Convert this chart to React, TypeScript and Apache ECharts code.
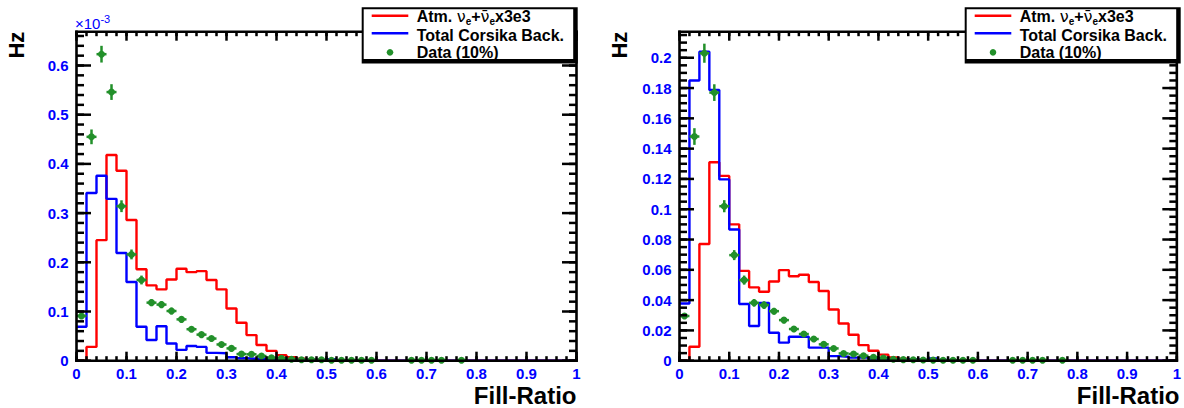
import React, { useEffect, useRef } from "react";
import * as echarts from "echarts";

// ---------- data (bin width 0.02, 50 bins from 0 to 1) ----------
const BIN_WIDTH = 0.02;

// Left panel (units of 1e-3 Hz)
const atmLeft = [0, 0.028, 0.245, 0.418, 0.386, 0.286, 0.186, 0.153, 0.145, 0.165, 0.187, 0.18, 0.182, 0.164, 0.145, 0.106, 0.077, 0.052, 0.032, 0.02, 0.011, 0.007, 0.004, 0.002, 0.001, 0.003, 0.001, 0, 0, 0, 0, 0, 0, 0, 0, 0, 0, 0, 0, 0, 0, 0, 0, 0, 0, 0, 0, 0, 0, 0];
const corsikaLeft = [0.069, 0.341, 0.376, 0.329, 0.219, 0.16, 0.069, 0.042, 0.07, 0.035, 0.022, 0.03, 0.028, 0.016, 0.015, 0.007, 0.005, 0.004, 0.004, 0.003, 0.003, 0.002, 0.002, 0.002, 0.001, 0.003, 0.001, 0.001, 0, 0, 0, 0, 0, 0, 0, 0, 0, 0, 0, 0, 0, 0, 0, 0, 0, 0, 0, 0, 0, 0];
const dataLeft = [0.091, 0.455, 0.623, 0.546, 0.314, 0.216, 0.164, 0.118, 0.114, 0.101, 0.084, 0.064, 0.053, 0.045, 0.033, 0.025, 0.0135, 0.013, 0.0095, 0.006, 0.005, 0.003, 0.002, 0.002, 0.002, 0.001, 0.001, 0.001, 0.001, 0.001, null, null, null, 0.001, 0.001, 0.001, 0.001, null, 0.001, null, null, null, null, null, null, null, null, null, null, null];
const errLeft = [0.006, 0.015, 0.017, 0.016, 0.012, 0.01, 0.009, 0.007, 0.007, 0.007, 0.006, 0.005, 0.005, 0.004, 0.004, 0.003, 0.003, 0.003, 0.002, 0.002, 0.002, 0.002, 0.001, 0.001, 0.001, 0.001, 0.001, 0.001, 0.001, 0.001, 0, 0, 0, 0.001, 0.001, 0.001, 0.001, 0, 0.001, 0, 0, 0, 0, 0, 0, 0, 0, 0, 0, 0];

// Right panel (Hz)
const atmRight = [0, 0.0092, 0.077, 0.131, 0.122, 0.09, 0.0593, 0.0484, 0.0455, 0.0523, 0.0598, 0.0558, 0.0567, 0.052, 0.046, 0.0338, 0.0246, 0.0171, 0.0103, 0.0066, 0.004, 0.0022, 0.0013, 0.0007, 0.0004, 0.0009, 0.0003, 0, 0, 0, 0, 0, 0, 0, 0, 0, 0, 0, 0, 0, 0, 0, 0, 0, 0, 0, 0, 0, 0, 0];
const corsikaRight = [0.0378, 0.185, 0.204, 0.1787, 0.1197, 0.0866, 0.0374, 0.0229, 0.0382, 0.0185, 0.0119, 0.0158, 0.0158, 0.0086, 0.0086, 0.003, 0.0026, 0.002, 0.002, 0.0015, 0.001, 0.001, 0.001, 0.0008, 0.0005, 0.0015, 0.0005, 0.0003, 0, 0, 0, 0, 0, 0, 0, 0, 0, 0, 0, 0, 0, 0, 0, 0, 0, 0, 0, 0, 0, 0];
const dataRight = [0.0295, 0.148, 0.203, 0.177, 0.102, 0.0697, 0.0532, 0.0382, 0.0367, 0.0327, 0.0268, 0.0209, 0.0176, 0.0143, 0.0108, 0.0081, 0.0048, 0.0044, 0.0033, 0.0022, 0.0018, 0.0009, 0.0007, 0.0006, 0.0005, 0.0004, 0.0003, 0.0003, 0.0003, 0.0003, null, null, null, 0.0003, 0.0003, 0.0003, 0.0003, null, 0.0003, null, null, null, null, null, null, null, null, null, null, null];
const errRight = [0.002, 0.0055, 0.0063, 0.0055, 0.004, 0.0033, 0.003, 0.0025, 0.0025, 0.0022, 0.002, 0.0018, 0.0016, 0.0014, 0.0012, 0.001, 0.0008, 0.0008, 0.0007, 0.0006, 0.0005, 0.0004, 0.0003, 0.0003, 0.0003, 0.0002, 0.0002, 0.0002, 0.0002, 0.0002, 0, 0, 0, 0.0002, 0.0002, 0.0002, 0.0002, 0, 0.0002, 0, 0, 0, 0, 0, 0, 0, 0, 0, 0, 0];

const legendLabels = ["Atm.", "Total Corsika Back.", "Data (10%)"];
const xAxisTitle = "Fill-Ratio";
const yAxisTitle = "Hz";

// ---------- styles ----------
const RED = "#ff0000";
const BLUE = "#0000ff";
const GREEN = "#22902a";
const INK = "#000000";
const TICK_W = 2.5;
const FRAME_W = 2.6;
const FONT = "Liberation Sans, Arial, Helvetica, sans-serif";

const panels = [
  { left: 76.5, ymax: 0.6687, yMajor: 0.1, yMinor: 0.02, atm: atmLeft, cor: corsikaLeft, data: dataLeft, err: errLeft, exponent: true },
  { left: 679.5, ymax: 0.2172, yMajor: 0.02, yMinor: 0.005, atm: atmRight, cor: corsikaRight, data: dataRight, err: errRight, exponent: false },
];
const GRID_TOP = 31.7;
const GRID_H = 329;
const GRID_W = 500;
const X_MAJOR = 0.1;
const X_MINOR = 0.02;

function fmtTick(v: number, step: number): string {
  const r = Math.round(v / step);
  if (Math.abs(v - r * step) > step * 1e-6) return "";
  return String(parseFloat((r * step).toFixed(4)));
}

function tickValues(step: number, max: number): number[] {
  const out: number[] = [];
  for (let i = 0; i * step <= max + 1e-9; i++) out.push(parseFloat((i * step).toFixed(6)));
  return out;
}

function histData(vals: number[]) {
  const pts: number[][] = vals.map((v, i) => [i * BIN_WIDTH, v]);
  pts.push([vals.length * BIN_WIDTH, vals[vals.length - 1]]);
  return pts;
}

function baseGraphic(): any[] {
  const graphic: any[] = [];
  panels.forEach((p, pi) => {
    const right = p.left + GRID_W;
    graphic.push({
      id: "xt" + pi, type: "text", x: right, y: 395, z: 100,
      style: { text: xAxisTitle, fill: INK, fontSize: 24, fontWeight: "bold", fontFamily: FONT, align: "right", verticalAlign: "middle" },
    });
    graphic.push({
      id: "yt" + pi, type: "text", x: p.left - 60, y: GRID_TOP, rotation: Math.PI / 2, z: 100,
      style: { text: yAxisTitle, fill: INK, fontSize: 22, fontWeight: "bold", fontFamily: FONT, align: "right", verticalAlign: "middle" },
    });
    if (p.exponent) {
      graphic.push({
        id: "ex" + pi, type: "text", x: p.left - 1.5, y: 23, z: 100,
        style: {
          text: "{m|\u00d710}{e|-3}", align: "left", verticalAlign: "middle",
          rich: {
            m: { fontSize: 15, fontFamily: FONT, fill: BLUE, color: BLUE, lineHeight: 20 },
            e: { fontSize: 11, fontFamily: FONT, fill: BLUE, color: BLUE, lineHeight: 10, verticalAlign: "top" },
          },
        },
      });
    }
    const lx = p.left + 286.2;
    const ly = 8.3;
    const lw = 211.5;
    const lh = 51.7;
    graphic.push({ id: "lsh" + pi, type: "rect", z: 100, shape: { x: lx - 1, y: ly - 1, width: lw + 4.5, height: lh + 4.5 }, style: { fill: INK } });
    graphic.push({ id: "lbx" + pi, type: "rect", z: 101, shape: { x: lx + 1, y: ly + 1, width: lw - 2, height: lh - 2 }, style: { fill: "#fff" } });
    graphic.push({ id: "lr" + pi, type: "line", z: 102, shape: { x1: lx + 9, y1: 15.7, x2: lx + 45.6, y2: 15.7 }, style: { stroke: RED, lineWidth: 2.4 } });
    graphic.push({ id: "lb" + pi, type: "line", z: 102, shape: { x1: lx + 9, y1: 33.3, x2: lx + 45.6, y2: 33.3 }, style: { stroke: BLUE, lineWidth: 2.4 } });
    graphic.push({ id: "lg" + pi, type: "circle", z: 102, shape: { cx: lx + 27.3, cy: 52.3, r: 3.3 }, style: { fill: GREEN } });
    const b = { fontSize: 16, fontWeight: "bold", fontFamily: FONT, fill: INK, color: INK, lineHeight: 20 };
    graphic.push({
      id: "l1" + pi, type: "text", x: lx + 54, y: 16.2, z: 102,
      style: {
        text: "{a|" + legendLabels[0] + " }{g|\u03bd}{s|e}{a|+}{g|\u03bd\u0304}{s|e}{a|x3e3}",
        align: "left", verticalAlign: "middle",
        rich: {
          a: b,
          g: { fontSize: 16, fontWeight: "normal", fontFamily: "DejaVu Sans", fill: INK, color: INK, lineHeight: 20 },
          s: { fontSize: 10, fontWeight: "bold", fontFamily: FONT, fill: INK, color: INK, lineHeight: 10, verticalAlign: "bottom" },
        },
      },
    });
    graphic.push({
      id: "l2" + pi, type: "text", x: lx + 54, y: 35.3, z: 102,
      style: { text: legendLabels[1], align: "left", verticalAlign: "middle", fontSize: 16, fontWeight: "bold", fontFamily: FONT, fill: INK },
    });
    graphic.push({
      id: "l3" + pi, type: "text", x: lx + 54, y: 52.5, z: 102,
      style: { text: legendLabels[2], align: "left", verticalAlign: "middle", fontSize: 16, fontWeight: "bold", fontFamily: FONT, fill: INK },
    });
  });
  return graphic;
}

function buildOption() {
  const grid: any[] = [];
  const xAxis: any[] = [];
  const yAxis: any[] = [];
  const series: any[] = [];
  const labelStyle = { color: BLUE, fontWeight: "bold", fontSize: 15, fontFamily: FONT };

  panels.forEach((p, pi) => {
    grid.push({ show: false, left: p.left, top: GRID_TOP, width: GRID_W, height: GRID_H });
    xAxis.push({
      type: "value", gridIndex: pi, min: 0, max: 1, interval: X_MAJOR,
      axisLine: { show: false }, axisTick: { show: false }, minorTick: { show: false },
      splitLine: { show: false }, minorSplitLine: { show: false },
      axisLabel: { show: true, ...labelStyle, margin: 5, showMinLabel: true, showMaxLabel: true, formatter: (v: number) => fmtTick(v, X_MAJOR) },
    });
    yAxis.push({
      type: "value", gridIndex: pi, min: 0, max: p.ymax, interval: p.yMajor,
      axisLine: { show: false }, axisTick: { show: false }, minorTick: { show: false },
      splitLine: { show: false }, minorSplitLine: { show: false },
      axisLabel: { show: true, ...labelStyle, margin: 8, showMinLabel: true, showMaxLabel: true, formatter: (v: number) => fmtTick(v, p.yMajor) },
    });

    series.push({
      type: "line", xAxisIndex: pi, yAxisIndex: pi, step: "end", showSymbol: false, symbol: "none",
      data: histData(p.atm), lineStyle: { color: RED, width: 2.4 }, itemStyle: { color: RED }, z: 11,
    });
    series.push({
      type: "line", xAxisIndex: pi, yAxisIndex: pi, step: "end", showSymbol: false, symbol: "none",
      data: histData(p.cor), lineStyle: { color: BLUE, width: 2.4 }, itemStyle: { color: BLUE }, z: 12,
    });
    const pts: number[][] = [];
    p.data.forEach((v, i) => {
      if (v !== null) pts.push([(i + 0.5) * BIN_WIDTH, v as number, p.err[i]]);
    });
    series.push({
      type: "custom", xAxisIndex: pi, yAxisIndex: pi, z: 13,
      encode: { x: 0, y: 1 },
      data: pts,
      renderItem: (params: any, api: any) => {
        const x = api.value(0), y = api.value(1), e = api.value(2);
        const c = api.coord([x, y]);
        const l = api.coord([x - BIN_WIDTH / 2, y]);
        const r = api.coord([x + BIN_WIDTH / 2, y]);
        const t = api.coord([x, y + e]);
        const b = api.coord([x, Math.max(0, y - e)]);
        return {
          type: "group",
          children: [
            { type: "line", shape: { x1: l[0], y1: c[1], x2: r[0], y2: c[1] }, style: { stroke: GREEN, lineWidth: 2.5 } },
            { type: "line", shape: { x1: c[0], y1: t[1], x2: c[0], y2: b[1] }, style: { stroke: GREEN, lineWidth: 2.5 } },
            { type: "circle", shape: { cx: c[0], cy: c[1], r: 3.5 }, style: { fill: GREEN } },
          ],
        };
      },
    });
  });

  return { animation: false, backgroundColor: "#fff", grid, xAxis, yAxis, series, graphic: baseGraphic() };
}

// frame and ticks, positioned through the chart's own axis scales (convertToPixel)
function frameGraphic(chart: any): any[] {
  const out: any[] = [];
  let n = 0;
  const box = (x: number, y: number, w: number, h: number) => {
    out.push({ id: "tk" + n++, type: "rect", z: 60, silent: true, shape: { x, y, width: w, height: h }, style: { fill: INK } });
  };
  panels.forEach((p, pi) => {
    const px = (v: number) => chart.convertToPixel({ xAxisIndex: pi }, v) as number;
    const py = (v: number) => chart.convertToPixel({ yAxisIndex: pi }, v) as number;
    const L = px(0), R = px(1), B = py(0), T = py(p.ymax);
    const hw = TICK_W / 2;
    for (const v of tickValues(X_MINOR, 1)) { const x = px(v); box(x - hw, B - 4.5, TICK_W, 4.5); box(x - hw, T, TICK_W, 4.5); }
    for (const v of tickValues(X_MAJOR, 1)) { const x = px(v); box(x - hw, B - 9, TICK_W, 9); box(x - hw, T, TICK_W, 9); }
    for (const v of tickValues(p.yMinor, p.ymax)) { const y = py(v); box(L, y - hw, 7.5, TICK_W); box(R - 7.5, y - hw, 7.5, TICK_W); }
    for (const v of tickValues(p.yMajor, p.ymax)) { const y = py(v); box(L, y - hw, 14.5, TICK_W); box(R - 14.5, y - hw, 14.5, TICK_W); }
    const fw = FRAME_W / 2;
    box(L - fw, T - fw, R - L + FRAME_W, FRAME_W);
    box(L - fw, B - fw, R - L + FRAME_W, FRAME_W);
    box(L - fw, T - fw, FRAME_W, B - T + FRAME_W);
    box(R - fw, T - fw, FRAME_W, B - T + FRAME_W);
  });
  return out;
}

export default function App() {
  const ref = useRef<HTMLDivElement>(null);
  useEffect(() => {
    if (!ref.current) return;
    const chart = echarts.init(ref.current, null, { renderer: "svg" });
    chart.setOption(buildOption() as any);
    chart.setOption({ graphic: [...baseGraphic(), ...frameGraphic(chart)] } as any);
    return () => chart.dispose();
  }, []);
  return <div ref={ref} style={{ position: "fixed", left: 0, top: 0, width: 1184, height: 408, background: "#fff" }} />;
}
